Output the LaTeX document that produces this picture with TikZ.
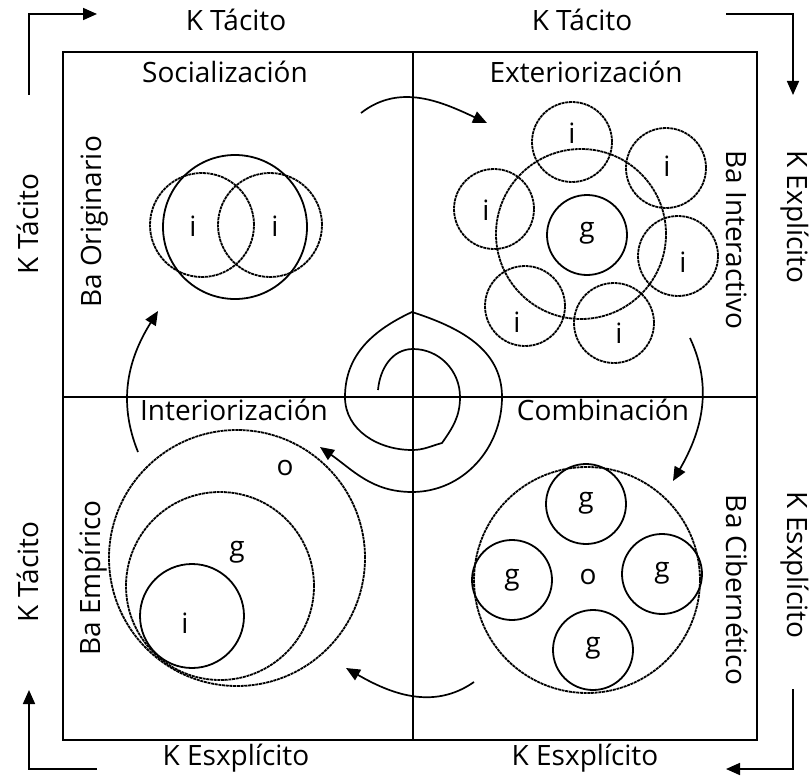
\documentclass[tikz,border=0pt]{standalone}
\usepackage{fontspec}
\setmainfont{Open Sans}
\usetikzlibrary{arrows.meta}
\tikzset{
  lbl/.style={inner sep=0pt, font=\fontsize{28}{32}\selectfont},
  frame/.style={line width=1.4pt},
  solidc/.style={line width=1.8pt},
  dashc/.style={line width=1.8pt, dash pattern=on 3pt off 0.7pt},
  flow/.style={line width=1.7pt, -{Triangle[length=14pt,width=12pt]}},
}
\begin{document}
\begin{tikzpicture}[x=1pt,y=1pt]
\useasboundingbox (0,0) rectangle (809,-776);
% frame
\draw[frame] (63,-52) rectangle (757,-740);
\draw[frame] (413,-52) -- (413,-740);
\draw[frame] (63,-397) -- (757,-397);
% outer labels
\node[lbl] (tl) at (236,-20) {K Tácito};
\node[lbl] (tr) at (582,-20) {K Tácito};
\node[lbl] (bl) at (236,-758) {K Esxplícito};
\node[lbl] (br) at (585,-758) {K Esxplícito};
\node[lbl, rotate=90] (lt) at (28,-224) {K Tácito};
\node[lbl, rotate=90] (lb) at (28,-572) {K Tácito};
\node[lbl, rotate=-90] (rt) at (795,-217) {K Explícito};
\node[lbl, rotate=-90] (rb) at (795,-565) {K Esxplícito};
% corner arrows
\coordinate (c1a) at (29,-95); \coordinate (c1b) at (97,-14);
\coordinate (c2a) at (726,-14); \coordinate (c2b) at (793,-95);
\coordinate (c3a) at (793,-689); \coordinate (c3b) at (726,-769);
\coordinate (c4a) at (97,-769); \coordinate (c4b) at (29,-690);
\draw[flow] (c1a) |- (c1b);
\draw[flow] (c2a) -| (c2b);
\draw[flow] (c3a) |- (c3b);
\draw[flow] (c4a) -| (c4b);
% quadrant titles
\node[lbl] (q1) at (225,-72) {Socialización};
\node[lbl] (q2) at (586,-72) {Exteriorización};
\node[lbl] (q3) at (234,-410) {Interiorización};
\node[lbl] (q4) at (603,-410) {Combinación};
\node[lbl, rotate=90] (ba1) at (95,-222) {Ba Originario};
\node[lbl, rotate=-90] (ba2) at (737,-240) {Ba Interactivo};
\node[lbl, rotate=90] (ba3) at (93,-578) {Ba Empírico};
\node[lbl, rotate=-90] (ba4) at (737,-590) {Ba Cibernético};
% Q1 circles
\draw[solidc] (235,-227) circle (72);
\draw[dashc] (202,-225) circle (52);
\draw[dashc] (270,-225) circle (52);
\node[lbl] (i1) at (193,-226) {i};
\node[lbl] (i2) at (275,-226) {i};
% Q2 circles
\draw[dashc] (581,-234) circle (85);
\draw[solidc] (587,-235) circle (40);
\node[lbl] (g0) at (587,-233) {g};
\foreach \p/\n in {{(572,-142)}/a,{(666,-168)}/b,{(494,-209)}/c,{(678,-256)}/d,{(525,-306)}/e,{(614,-323)}/f}
  \draw[dashc] \p circle (40);
\node[lbl] (ia) at (572,-133) {i};
\node[lbl] (ib) at (667,-166) {i};
\node[lbl] (ic) at (486,-210) {i};
\node[lbl] (id) at (683,-262) {i};
\node[lbl] (ie) at (517,-322) {i};
\node[lbl] (if) at (619,-333) {i};
% Q3 circles
\draw[dashc] (237,-558) circle (128);
\draw[dashc] (220,-586) circle (94);
\draw[solidc] (192,-616) circle (52);
\node[lbl] (o3) at (285,-468) {o};
\node[lbl] (g3) at (237,-552) {g};
\node[lbl] (i3) at (185,-623) {i};
% Q4 circles
\draw[dashc] (587,-580) circle (113);
\draw[solidc] (586,-504) circle (40);
\draw[solidc] (512,-580) circle (40);
\draw[solidc] (662,-574) circle (40);
\draw[solidc] (593,-650) circle (40);
\node[lbl] (gt) at (586,-503) {g};
\node[lbl] (gl) at (512,-580) {g};
\node[lbl] (gr) at (662,-573) {g};
\node[lbl] (gb) at (593,-648) {g};
\node[lbl] (o4) at (588,-577) {o};
% cycle arrows
\coordinate (a1s) at (361,-113); \coordinate (a1e) at (487,-123);
\coordinate (a2s) at (690,-338); \coordinate (a2e) at (673,-481);
\coordinate (a3s) at (474,-682); \coordinate (a3e) at (346,-668);
\coordinate (a4s) at (138,-452); \coordinate (a4e) at (158,-311);
\draw[flow] (a1s) to[out=38,in=155] (a1e);
\draw[flow] (a2s) to[out=-65,in=60] (a2e);
\draw[flow] (a3s) to[out=-145,in=-30] (a3e);
\draw[flow] (a4s) to[out=112,in=-122] (a4e);
% spiral
\coordinate (s0) at (378,-390);
\coordinate (s1) at (413,-349);
\coordinate (s2) at (460,-397);
\coordinate (s3) at (442,-443);
\coordinate (s4) at (412,-450);
\coordinate (s5) at (345,-397);
\coordinate (s6) at (412,-312);
\coordinate (s7) at (502,-397);
\coordinate (s8) at (412,-492);
\coordinate (s9) at (320,-447);
\draw[flow] (s0) to[out=85,in=180] (s1) to[out=0,in=90] (s2) to[out=-90,in=55] (s3)
  to[out=195,in=0] (s4) to[out=180,in=-90] (s5) to[out=90,in=205] (s6)
  to[out=-18,in=90] (s7) to[out=-90,in=0] (s8) to[out=180,in=-35] (s9);
\end{tikzpicture}
\end{document}
